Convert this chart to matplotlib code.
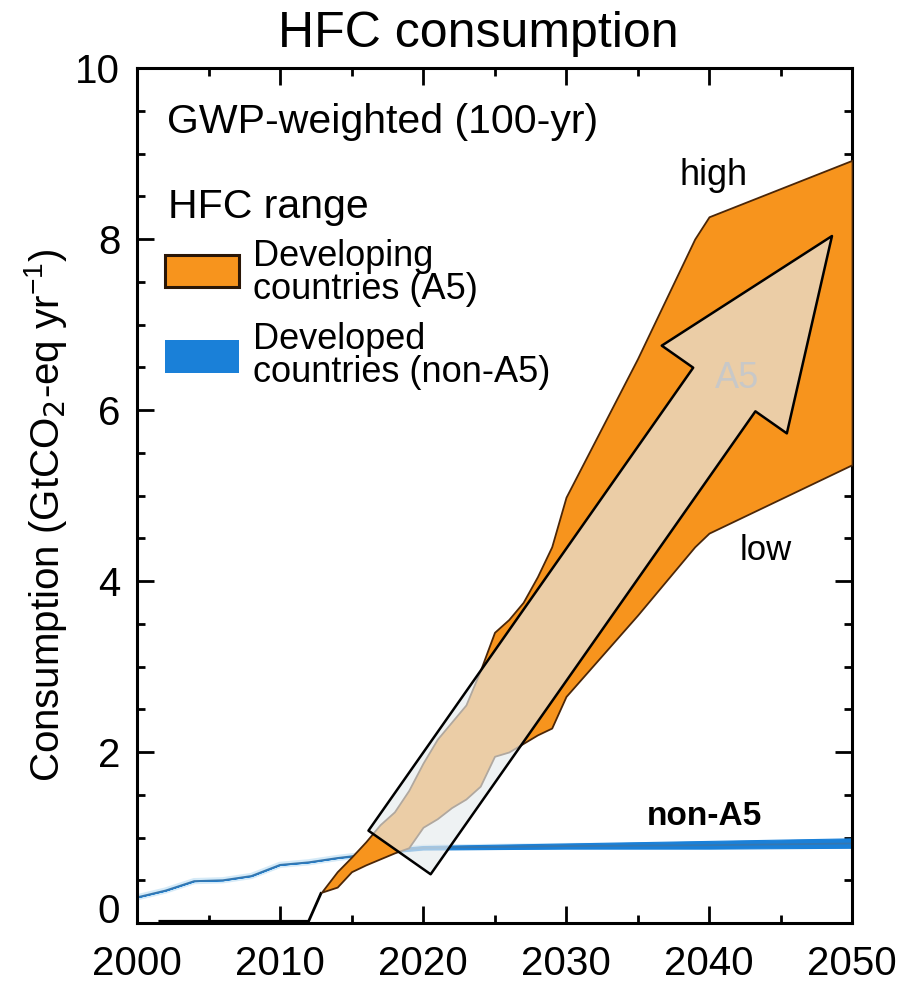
import matplotlib
matplotlib.use("Agg")
import matplotlib.pyplot as plt
from matplotlib.patches import Rectangle
from matplotlib.ticker import MultipleLocator

plt.rcParams["font.family"] = ["Liberation Sans", "DejaVu Sans"]

# Developing countries (A5): zero until 2012, then a high/low scenario range
a5_hist_years = [2001.5, 2012.0, 2012.9]
a5_hist_vals = [0.02, 0.02, 0.36]

a5_years = [2012.9, 2014, 2015, 2016, 2017, 2018, 2019, 2020, 2021, 2022, 2023,
            2024, 2025, 2026, 2027, 2028, 2029, 2030, 2035, 2039, 2040, 2050]
a5_high = [0.36, 0.60, 0.77, 0.95, 1.15, 1.30, 1.55, 1.87, 2.15, 2.35, 2.55,
           2.95, 3.40, 3.55, 3.75, 4.05, 4.40, 4.98, 6.60, 8.00, 8.26, 8.92]
a5_low = [0.36, 0.42, 0.60, 0.68, 0.75, 0.82, 0.88, 1.12, 1.22, 1.35, 1.45,
          1.60, 1.95, 2.00, 2.10, 2.20, 2.28, 2.65, 3.60, 4.40, 4.56, 5.36]

# Developed countries (non-A5)
na5_years = [2000, 2002, 2004, 2006, 2008, 2010, 2012, 2014, 2016, 2018, 2020,
             2030, 2040, 2050]
na5_mid = [0.30, 0.38, 0.49, 0.50, 0.55, 0.68, 0.71, 0.76, 0.80, 0.85, 0.88,
           0.90, 0.91, 0.93]
na5_high = [0.30, 0.38, 0.49, 0.50, 0.55, 0.68, 0.71, 0.76, 0.81, 0.87, 0.90,
            0.93, 0.96, 0.99]
na5_low = [0.30, 0.38, 0.49, 0.50, 0.55, 0.68, 0.71, 0.76, 0.79, 0.83, 0.86,
           0.87, 0.87, 0.88]

orange = "#f7941d"
edge_brown = "#4a2608"
blue = "#1a80d8"

fig = plt.figure(figsize=(9.19, 9.83), dpi=100)
ax = fig.add_axes([137 / 919, 1 - 923 / 983, 715 / 919, 855 / 983])

# non-A5 band, with a soft halo under the historical line
ax.plot(na5_years, na5_mid, color="#b9dcf3", lw=4.5, alpha=0.6, zorder=1,
        solid_capstyle="butt")
ax.fill_between(na5_years, na5_low, na5_high, facecolor=blue, edgecolor=blue,
                lw=0.8, zorder=2)
ax.plot(na5_years, na5_mid, color="#3577b0", lw=1.3, zorder=2)

# A5 history and range
ax.plot(a5_hist_years, a5_hist_vals, color="black", lw=2.0, zorder=3,
        solid_capstyle="butt")
ax.fill_between(a5_years, a5_low, a5_high, facecolor=orange,
                edgecolor=edge_brown, lw=1.3, zorder=3)

# big trend arrow over the A5 range
ax.annotate("", xy=(2048.6, 8.035), xytext=(2018.36, 0.825),
            arrowprops=dict(arrowstyle="simple,head_length=13.5,head_width=11,tail_width=5.47",
                            fc=(0.9, 0.925, 0.935, 0.66), ec="black", lw=1.8,
                            shrinkA=0, shrinkB=0),
            zorder=4)
ax.text(2041.96, 6.37, "A5", fontsize=26, color="#c8c8c8", ha="center",
        va="center", zorder=5)

ax.text(2037.97, 8.63, "high", fontsize=26, va="baseline", zorder=5)
ax.text(2042.17, 4.25, "low", fontsize=25, va="baseline", zorder=5)
ax.text(2035.66, 1.15, "non-A5", fontsize=24, fontweight="bold",
        va="baseline", zorder=5)

# legend block
ax.text(0.042, 0.924, "GWP-weighted (100-yr)", transform=ax.transAxes,
        fontsize=29.5, va="baseline")
ax.text(0.043, 0.8246, "HFC range", transform=ax.transAxes, fontsize=29.5,
        va="baseline")
ax.add_patch(Rectangle((0.039, 0.744), 0.1035, 0.0374, transform=ax.transAxes,
                       facecolor=orange, edgecolor="#2a1606", lw=2.2,
                       zorder=5))
ax.add_patch(Rectangle((0.039, 0.643), 0.1035, 0.039, transform=ax.transAxes,
                       facecolor=blue, edgecolor="none", zorder=5))
ax.text(0.162, 0.760, "Developing\ncountries (A5)", transform=ax.transAxes,
        fontsize=26, va="center", linespacing=0.92)
ax.text(0.162, 0.663, "Developed\ncountries (non-A5)", transform=ax.transAxes,
        fontsize=26, va="center", linespacing=0.92)

ax.set_xlim(2000, 2050)
ax.set_ylim(0, 10)
ax.set_xticks(range(2000, 2051, 10))
ax.xaxis.set_minor_locator(MultipleLocator(5))
ax.set_yticks(range(0, 11, 2))
ax.yaxis.set_minor_locator(MultipleLocator(0.5))
ax.tick_params(which="both", direction="in", top=True, right=True, width=2,
               labelsize=29)
ax.tick_params(which="major", length=12)
ax.tick_params(which="minor", length=6)
ax.tick_params(axis="x", pad=16)
ax.tick_params(axis="y", pad=12)
for sp in ax.spines.values():
    sp.set_linewidth(2.2)

# the end labels sit a little inside the axis box
ylabels = ax.get_yticklabels()
ylabels[0].set_va("baseline")
ylabels[-1].set_va("center_baseline")

fig.text(0.52, 0.952, "HFC consumption", fontsize=36, ha="center",
         va="baseline")
fig.text(0.049, 0.476, r"Consumption (GtCO$_2$-eq yr$^{\mathregular{-1}}$)",
         fontsize=29, rotation=90, ha="center", va="center")

fig.savefig("out.png", dpi=100)
